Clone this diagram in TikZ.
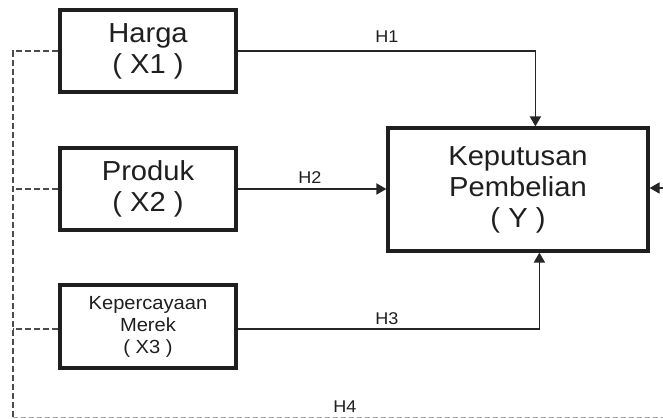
\documentclass[tikz,border=0pt]{standalone}
\usepackage{fontspec}
\setmainfont{Liberation Sans}[FakeStretch=1.06]
\usetikzlibrary{arrows.meta,calc}
\begin{document}
\begin{tikzpicture}[x=1pt,y=-1pt,
  varbox/.style={draw=black!88,line width=3.2pt,inner sep=0pt,align=center,text=black!88,
    font=\fontsize{27.5}{31}\selectfont},
  smallbox/.style={varbox,font=\fontsize{19}{22}\selectfont},
  link/.style={draw=black!85,line width=1.8pt},
  arr/.style={link,-{Triangle[length=10pt,width=11pt]}},
  dline/.style={draw=black!70,line width=1.2pt,dash pattern=on 6pt off 3pt},
  faint/.style={draw=black!35,line width=1pt,dash pattern=on 5pt off 3pt},
  hlab/.style={anchor=base,inner sep=0pt,text=black!88,font=\fontsize{17}{18}\selectfont}]
\useasboundingbox (0,0) rectangle (663,419);
\clip (0,0) rectangle (663,419);
\fill[white] (0,0) rectangle (663,419);

\node[varbox,minimum width=176pt,minimum height=82pt] (x1) at (148,51) {Harga\\( X1 )};
\node[varbox,minimum width=176pt,minimum height=82pt] (x2) at (148,189) {Produk\\( X2 )};
\node[smallbox,minimum width=176pt,minimum height=83pt] (x3) at (148,326.5) {Kepercayaan\\Merek\\( X3 )};
\node[varbox,minimum width=260pt,minimum height=123pt] (y) at (518,189.5) {Keputusan\\Pembelian\\( Y )};

% hypotheses
\draw[arr] (x1.east) -| ($(y.north west)+(149,0)$);
\draw[arr] (x2.east) -- (x2.east -| y.west);
\draw[arr] ($(x3.east)+(0,2.5)$) -| ($(y.south west)+(153,0)$);

\node[hlab] (h1) at (387,43) {H1};
\node[hlab] (h2) at (310,184) {H2};
\node[hlab] (h3) at (387,324) {H3};
\node[hlab] (h4) at (345,412) {H4};

% dashed H4 path
\coordinate (vt) at (13,51);
\coordinate (vb) at (13,417);
\coordinate (rb) at (680,417);
\coordinate (rt) at (680,188);
\draw[dline] (x1.west) -- (vt) -- (vb);
\draw[dline] (x2.west) -- (x2.west -| vt);
\draw[dline] ($(x3.west)+(0,2.5)$) -- ($(x3.west -| vt)+(0,2.5)$);
\draw[faint] (vb) -- (rb) -- (rt);
\draw[arr] (rt) -- (rt -| y.east);
\end{tikzpicture}
\end{document}
